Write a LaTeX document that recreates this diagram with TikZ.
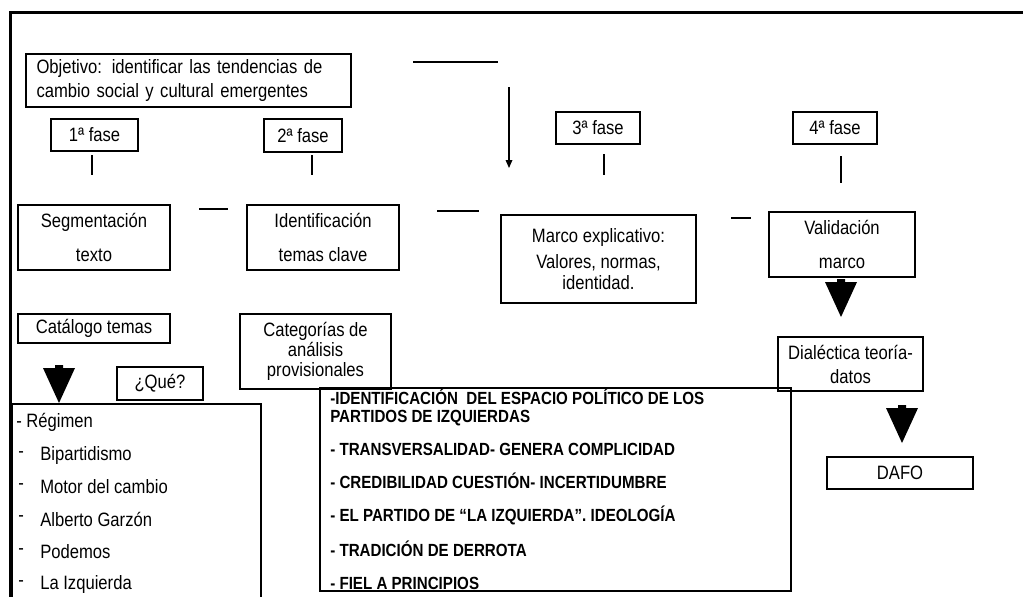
\documentclass[tikz,border=0pt]{standalone}
\usepackage{fontspec}
\setmainfont{Liberation Sans}[FakeStretch=0.86]
\usetikzlibrary{arrows.meta,positioning}
\tikzset{%
   caja/.style={draw=black, line width=0.9pt, inner sep=0pt, align=center, font=\fontsize{14.5}{15}\selectfont},
   texto/.style={inner sep=0pt, font=\fontsize{14.5}{15}\selectfont},
   raya/.style={line width=0.9pt},
   rect/.style n args={4}{minimum width={(#3-#1)*0.75pt}, minimum height={(#4-#2)*0.75pt},
      at={({(#1+#3)/2},{(#2+#4)/2})}},
}

\begin{document}
\begin{tikzpicture}[x=0.75pt, y=-0.75pt]
   \useasboundingbox (0,0) rectangle (1023,596);
   \clip (0,0) rectangle (1023,596);
   % marco exterior
   \draw[line width=2.25pt, line join=miter] (10,600) -- (10,12) -- (1026,12);
   % objetivo
   \node[caja, rect={26}{54}{351}{107}, text width=228pt, align=left] (obj)
      {Objetivo: identificar las tendencias de\\[3pt]cambio social y cultural emergentes};
   \coordinate (l0a) at (413,62);
   \coordinate (l0b) at (498,62);
   \draw[raya] (l0a) -- (l0b);
   \coordinate (ar0) at (509,87);
   \coordinate (ar1) at (509,168);
   \draw[raya, -{Triangle[width=5pt, length=6pt]}] (ar0) -- (ar1);
   % fases
   \node[caja, rect={51}{119}{138}{151}] (f1) {1ª fase};
   \node[caja, rect={264}{119}{342}{152}] (f2) {2ª fase};
   \node[caja, rect={556}{112}{640}{144}] (f3) {3ª fase};
   \node[caja, rect={793}{112}{877}{144}] (f4) {4ª fase};
   \foreach \x/\ya/\yb in {92/155/175, 312/155/175, 604/154/175, 841/156/183}
      \draw[raya] (\x,\ya) -- (\x,\yb);
   % segunda fila
   \node[caja, rect={18}{205}{170}{270}] (seg) {Segmentación\\[10.5pt]texto};
   \node[caja, rect={247}{205}{399}{270}] (ide) {Identificación\\[10.5pt]temas clave};
   \node[caja, rect={501}{215}{696}{303}] (mar) {Marco explicativo:\\[4.5pt]Valores, normas,\\[0.5pt]identidad.};
   \node[caja, rect={769}{212}{915}{277}] (val) {Validación\\[10.5pt]marco};
   \foreach \xa/\xb/\y in {199/228/209, 437/479/211, 731/751/218}
      \draw[raya] (\xa,\y) -- (\xb,\y);
   % tercera fila
   \node[caja, rect={18}{314}{170}{343}] (cat) {Catálogo temas};
   \node[caja, rect={240}{314}{391}{389}] (catg) {Categorías de\\análisis\\provisionales};
   \node[caja, rect={778}{337}{923}{391}] (dia) {Dialéctica teoría-\\[3pt]datos};
   \node[caja, rect={117}{367}{203}{400}] (que) {¿Qué?};
   \node[caja, rect={827}{457}{973}{489}] (dafo) {DAFO};
   % flechas gruesas
   \foreach \cx/\cy in {59/365, 841/279, 902/405}
      \fill (\cx-4,\cy) -- (\cx+4,\cy) -- (\cx+4,\cy+3) -- (\cx+16,\cy+3)
         -- (\cx,\cy+38) -- (\cx-16,\cy+3) -- (\cx-4,\cy+3) -- cycle;
   % lista de temas
   \node[caja, rect={12}{404}{261}{602}] (lista) {};
   \node[texto, anchor=west] (t0) at (16,422) {- Régimen};
   \foreach \t/\y [count=\i] in {Bipartidismo/455, Motor del cambio/487, Alberto Garzón/519, Podemos/552, La Izquierda/584} {
      \node[texto, anchor=west] (g\i) at (18,\y) {-};
      \node[texto, anchor=west] (t\i) at (40,\y) {\t};
   }
   % categorias
   \node[caja, rect={320}{388}{791}{591}] (res) {};
   \node[inner sep=0pt, anchor=west, align=left, font=\fontsize{13.2}{13.5}\selectfont\bfseries] (rest) at (330,489.5)
      {-IDENTIFICACIÓN\ \ DEL ESPACIO POLÍTICO DE LOS\\PARTIDOS DE IZQUIERDAS\\[11.25pt]
       - TRANSVERSALIDAD- GENERA COMPLICIDAD\\[11.25pt]
       - CREDIBILIDAD CUESTIÓN- INCERTIDUMBRE\\[11.25pt]
       - EL PARTIDO DE “LA IZQUIERDA”. IDEOLOGÍA\\[11.25pt]
       - TRADICIÓN DE DERROTA\\[11.25pt]
       - FIEL A PRINCIPIOS};
\end{tikzpicture}
\end{document}
